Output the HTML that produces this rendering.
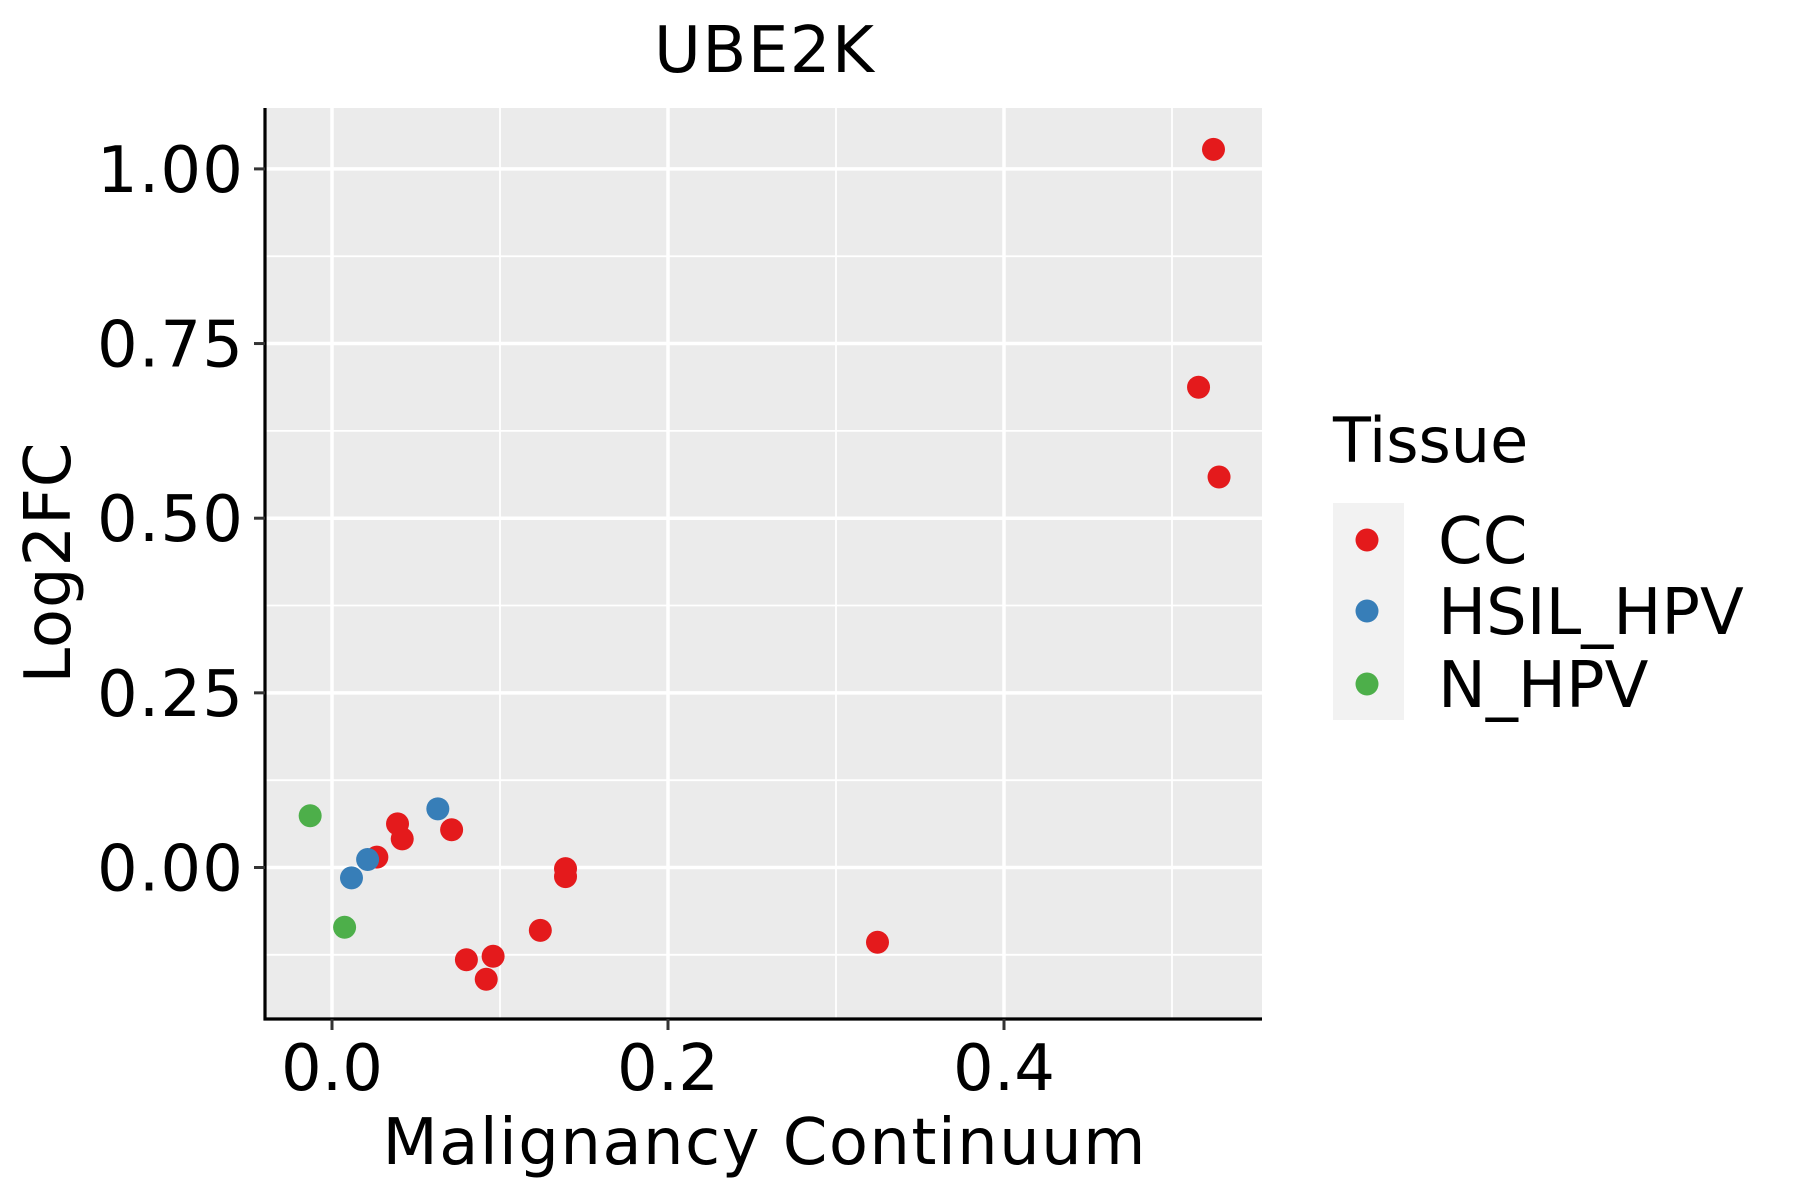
<!DOCTYPE html>
<html><head><meta charset="utf-8"><style>
html,body{margin:0;padding:0;background:#fff;}
svg{display:block;font-family:"DejaVu Sans","Liberation Sans",sans-serif;}
</style></head><body>
<svg id="chart" width="1800" height="1200" viewBox="0 0 1800 1200" xmlns="http://www.w3.org/2000/svg">
<text x="764" y="72" font-size="64" text-anchor="middle" textLength="220" fill="#000">UBE2K</text>
<rect x="265" y="108" width="997" height="911" fill="#ebebeb"/>
<g id="grid"></g>
<g id="points"></g>
<line x1="265" y1="108" x2="265" y2="1020.5" stroke="#000" stroke-width="3.2"/>
<line x1="263.5" y1="1019" x2="1262" y2="1019" stroke="#000" stroke-width="3.2"/>
<g id="axes"></g>
<text x="764" y="1164" font-size="64" text-anchor="middle" textLength="763" fill="#000">Malignancy Continuum</text>
<text x="0" y="0" font-size="64" text-anchor="middle" textLength="241" fill="#000" transform="translate(70,563) rotate(-90)">Log2FC</text>
<g>
<text x="1333" y="462" font-size="62" fill="#000">Tissue</text>
<rect x="1333" y="503" width="71" height="217" fill="#f2f2f2"/>
<g id="legend-items"></g>
</g>
</svg>
<script>
const categories = ["CC","HSIL_HPV","N_HPV"];
const colors = ["#e41a1c","#377eb8","#4daf4a"];
const ccX = [0.5247,0.5158,0.528,0.039,0.0418,0.0267,0.0712,0.139,0.139,0.124,0.080,0.0959,0.0918,0.3247];
const ccY = [1.028,0.6875,0.559,0.0625,0.041,0.0148,0.054,-0.0016,-0.013,-0.090,-0.132,-0.127,-0.160,-0.107];
const hsilX = [0.063,0.0212,0.0116];
const hsilY = [0.084,0.0115,-0.0148];
const nX = [-0.013,0.0075];
const nY = [0.074,-0.0855];
const xTicks = [0,0.2,0.4];
const xTickLabels = ["0.0","0.2","0.4"];
const xMinor = [0.1,0.3,0.5];
const yTicks = [0,0.25,0.5,0.75,1.0];
const yTickLabels = ["0.00","0.25","0.50","0.75","1.00"];
const yMinor = [-0.125,0.125,0.375,0.625,0.875];

const NS="http://www.w3.org/2000/svg";
const L=265,R=1262,T=108,B=1019;
function sx(v){return 332+v*1680;}
function sy(v){return 867.5-v*698.6;}
function mk(tag,attrs,parent){const e=document.createElementNS(NS,tag);for(const k in attrs)e.setAttribute(k,attrs[k]);parent.appendChild(e);return e;}
const grid=document.getElementById('grid');
xMinor.forEach(v=>{const e=mk('line',{x1:sx(v),x2:sx(v),y1:T,y2:B,stroke:'#fff','stroke-width':1.8},grid);

});
yMinor.forEach(v=>{const e=mk('line',{x1:L,x2:R,y1:sy(v),y2:sy(v),stroke:'#fff','stroke-width':1.8},grid);

});
xTicks.forEach(v=>{const e=mk('line',{x1:sx(v),x2:sx(v),y1:T,y2:B,stroke:'#fff','stroke-width':3.5},grid);

});
yTicks.forEach(v=>{const e=mk('line',{x1:L,x2:R,y1:sy(v),y2:sy(v),stroke:'#fff','stroke-width':3.5},grid);

});
const axes=document.getElementById('axes');
xTicks.forEach((v,i)=>{const t=mk('line',{x1:sx(v),x2:sx(v),y1:B,y2:B+11,stroke:'#333','stroke-width':3},axes);


const s=mk('text',{x:sx(v),y:1090,'font-size':64,'text-anchor':'middle',textLength:102,fill:'#000'},axes);s.textContent=xTickLabels[i];

});
yTicks.forEach((v,i)=>{const t=mk('line',{x1:L-11,x2:L,y1:sy(v),y2:sy(v),stroke:'#333','stroke-width':3},axes);


const s=mk('text',{x:243,y:sy(v)+23,'font-size':64,'text-anchor':'end',textLength:146,fill:'#000'},axes);s.textContent=yTickLabels[i];

});
const pts=document.getElementById('points');
[[ccX,ccY],[hsilX,hsilY],[nX,nY]].forEach((s,ci)=>{s[0].forEach((x,i)=>{const c=mk('circle',{cx:sx(x),cy:sy(s[1][i]),r:11.5,fill:colors[ci]},pts);

});});
const li=document.getElementById('legend-items');
const legY=[540,611,684];
categories.forEach((c,i)=>{const d=mk('circle',{cx:1367,cy:legY[i],r:11.5,fill:colors[i]},li);


const t=mk('text',{x:1438,y:legY[i]+23,'font-size':64,fill:'#000'},li);t.textContent=c;

});
</script>
</body></html>
